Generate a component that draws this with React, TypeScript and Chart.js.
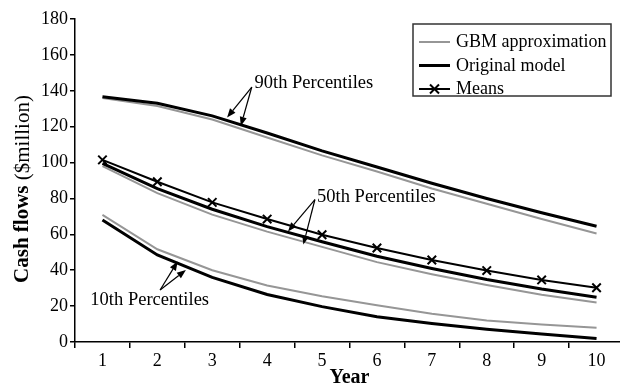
import React, { useEffect, useRef } from "react";
import { Chart, registerables } from "chart.js";

Chart.register(...registerables);

// ---------------- data ----------------
const years = ["1", "2", "3", "4", "5", "6", "7", "8", "9", "10"];
const yMin = 0;
const yMax = 180;
const yStep = 20;

const gbm90 = [136, 131.5, 124, 114, 104, 95, 85.5, 77, 68.5, 60.5];
const orig90 = [136.7, 133, 126, 116.5, 106.5, 97.5, 88.5, 80, 72, 64.5];
const means = [101.5, 89.3, 77.8, 68.5, 59.8, 52.4, 45.7, 39.8, 34.6, 30.2];
const orig50 = [99.5, 85.5, 74, 64.3, 55.9, 47.8, 41, 34.8, 29.5, 24.9];
const gbm50 = [98, 83, 71, 61.5, 53, 44.5, 37.8, 31.8, 26.3, 22];
const orig10 = [68, 48.5, 36, 26.5, 19.7, 14.1, 10.3, 7.1, 4.5, 2];
const gbm10 = [70.8, 51.7, 40, 31.5, 25.5, 20.5, 15.7, 12, 9.8, 8];

const legendLabels = ["GBM approximation", "Original model", "Means"];
const xTitle = "Year";
const yTitleBold = "Cash flows";
const yTitleRest = "($million)";

// annotations: label anchor (index, value), arrow origin, arrow targets (in data units)
const annotations = [
  { label: "90th Percentiles", tx: 2.77, ty: 144.3, ox: 2.72, oy: 142.1, targets: [[2.27, 125.1], [2.52, 120.4]] },
  { label: "50th Percentiles", tx: 3.91, ty: 80.8, ox: 3.87, oy: 79.4, targets: [[3.38, 61.6], [3.66, 54.3]] },
  { label: "10th Percentiles", tx: -0.22, ty: 23.1, ox: 1.05, oy: 29, targets: [[1.37, 44.9], [1.52, 40.1]] },
];

// ---------------- styles ----------------
const SERIF = "'Liberation Serif', 'Times New Roman', serif";
const GRAY = "#969696";
const BLACK = "#000000";
const W = 632;
const H = 388;

function drawArrow(ctx: CanvasRenderingContext2D, x0: number, y0: number, x1: number, y1: number) {
  const ang = Math.atan2(y1 - y0, x1 - x0);
  const len = 9;
  const hw = 3.5;
  const bx = x1 - len * Math.cos(ang);
  const by = y1 - len * Math.sin(ang);
  ctx.beginPath();
  ctx.moveTo(x0, y0);
  ctx.lineTo(bx, by);
  ctx.stroke();
  ctx.beginPath();
  ctx.moveTo(x1, y1);
  ctx.lineTo(bx + hw * Math.sin(ang), by - hw * Math.cos(ang));
  ctx.lineTo(bx - hw * Math.sin(ang), by + hw * Math.cos(ang));
  ctx.closePath();
  ctx.fill();
}

const overlayPlugin = {
  id: "overlay",
  afterDraw(chart: any) {
    const ctx: CanvasRenderingContext2D = chart.ctx;
    const xs = chart.scales.x;
    const ys = chart.scales.y;
    const ca = chart.chartArea;
    const px = (i: number) => xs.getPixelForValue(i);
    const py = (v: number) => ys.getPixelForValue(v);
    ctx.save();

    // annotations
    ctx.fillStyle = BLACK;
    ctx.strokeStyle = BLACK;
    ctx.lineWidth = 1.2;
    ctx.font = `18.5px ${SERIF}`;
    ctx.textBaseline = "middle";
    ctx.textAlign = "left";
    annotations.forEach((a) => {
      ctx.fillText(a.label, px(a.tx), py(a.ty));
      a.targets.forEach((t) => drawArrow(ctx, px(a.ox), py(a.oy), px(t[0]), py(t[1])));
    });

    // legend box
    const bx = 413, by = 24, bw = 198, bh = 72;
    ctx.fillStyle = "#ffffff";
    ctx.fillRect(bx, by, bw, bh);
    ctx.strokeStyle = "#333333";
    ctx.lineWidth = 1.5;
    ctx.strokeRect(bx, by, bw, bh);
    const rows = [42, 65.5, 89];
    const styles = [
      { color: GRAY, width: 2, marker: false },
      { color: BLACK, width: 3, marker: false },
      { color: BLACK, width: 2, marker: true },
    ];
    rows.forEach((ry, i) => {
      const s = styles[i];
      ctx.strokeStyle = s.color;
      ctx.lineWidth = s.width;
      ctx.beginPath();
      ctx.moveTo(419, ry);
      ctx.lineTo(450, ry);
      ctx.stroke();
      if (s.marker) {
        const cx = 434.5, r = 4.5;
        ctx.lineWidth = 2;
        ctx.beginPath();
        ctx.moveTo(cx - r, ry - r);
        ctx.lineTo(cx + r, ry + r);
        ctx.moveTo(cx - r, ry + r);
        ctx.lineTo(cx + r, ry - r);
        ctx.stroke();
      }
      ctx.fillStyle = BLACK;
      ctx.font = `18px ${SERIF}`;
      ctx.textAlign = "left";
      ctx.textBaseline = "middle";
      ctx.fillText(legendLabels[i], 456, ry + 0.5);
    });

    // x title
    ctx.fillStyle = BLACK;
    ctx.font = `bold 20px ${SERIF}`;
    ctx.textAlign = "center";
    ctx.textBaseline = "middle";
    ctx.fillText(xTitle, (ca.left + ca.right) / 2, 378);

    // y title (rotated, mixed weight)
    ctx.save();
    ctx.translate(23, 189);
    ctx.rotate(-Math.PI / 2);
    ctx.textAlign = "left";
    ctx.textBaseline = "middle";
    ctx.font = `bold 21px ${SERIF}`;
    const w1 = ctx.measureText(yTitleBold + " ").width;
    ctx.font = `21px ${SERIF}`;
    const w2 = ctx.measureText(yTitleRest).width;
    const start = -(w1 + w2) / 2;
    ctx.font = `bold 21px ${SERIF}`;
    ctx.fillText(yTitleBold + " ", start, 0);
    ctx.font = `21px ${SERIF}`;
    ctx.fillText(yTitleRest, start + w1, 0);
    ctx.restore();

    ctx.restore();
  },
};

export default function App() {
  const canvasRef = useRef<HTMLCanvasElement | null>(null);

  useEffect(() => {
    document.documentElement.style.overflow = "hidden";
    document.body.style.overflow = "hidden";
    document.body.style.margin = "0";
    const canvas = canvasRef.current;
    if (!canvas) return;

    const lineDs = (label: string, data: number[], color: string, width: number) => ({
      label,
      data,
      borderColor: color,
      backgroundColor: color,
      borderWidth: width,
      pointRadius: 0,
      pointHoverRadius: 0,
      tension: 0,
      fill: false,
    });

    const chart = new Chart(canvas, {
      type: "line",
      data: {
        labels: years,
        datasets: [
          {
            label: legendLabels[2],
            data: means,
            borderColor: BLACK,
            backgroundColor: BLACK,
            borderWidth: 2,
            pointStyle: "crossRot",
            pointRadius: 6,
            pointBorderWidth: 2,
            pointBorderColor: BLACK,
            tension: 0,
            fill: false,
          },
          lineDs(legendLabels[1] + " 90", orig90, BLACK, 3),
          lineDs(legendLabels[1] + " 50", orig50, BLACK, 3),
          lineDs(legendLabels[1] + " 10", orig10, BLACK, 3),
          lineDs(legendLabels[0] + " 90", gbm90, GRAY, 2),
          lineDs(legendLabels[0] + " 50", gbm50, GRAY, 2),
          lineDs(legendLabels[0] + " 10", gbm10, GRAY, 2),
        ],
      },
      options: {
        responsive: false,
        animation: false,
        layout: { padding: { top: 19, right: 4, left: 0, bottom: 0 } },
        plugins: {
          legend: { display: false },
          tooltip: { enabled: false },
          title: { display: false },
        },
        scales: {
          x: {
            type: "category",
            offset: true,
            grid: {
              display: true,
              drawOnChartArea: false,
              offset: true,
              drawTicks: true,
              tickLength: 6,
              color: BLACK,
              lineWidth: 1.5,
            },
            border: { display: true, color: BLACK, width: 1.5 },
            ticks: {
              color: BLACK,
              font: { family: SERIF, size: 18 },
              padding: 2,
              maxRotation: 0,
              autoSkip: false,
            },
            afterFit: (s: any) => {
              s.height = H - 342;
            },
          },
          y: {
            min: yMin,
            max: yMax,
            grid: {
              display: true,
              drawOnChartArea: false,
              drawTicks: true,
              tickLength: 5,
              color: BLACK,
              lineWidth: 1.5,
            },
            border: { display: true, color: BLACK, width: 1.5 },
            ticks: {
              stepSize: yStep,
              color: BLACK,
              font: { family: SERIF, size: 18 },
              padding: 2,
            },
            afterFit: (s: any) => {
              s.width = 75;
            },
          },
        },
      },
      plugins: [overlayPlugin],
    } as any);

    return () => chart.destroy();
  }, []);

  return (
    <div style={{ position: "absolute", left: 0, top: 0, width: W, height: H, overflow: "hidden" }}>
      <canvas ref={canvasRef} width={W} height={H} style={{ width: W, height: H, display: "block" }} />
    </div>
  );
}
